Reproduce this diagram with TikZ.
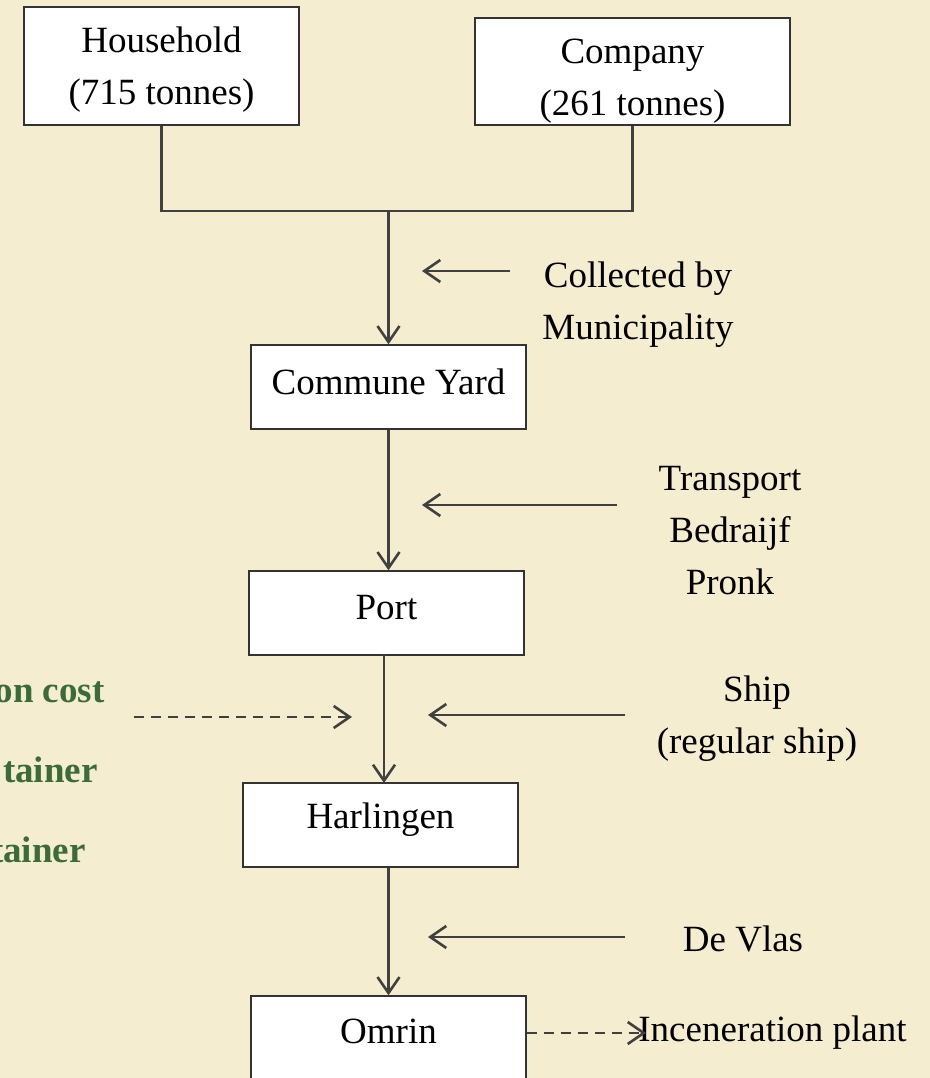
\documentclass[tikz,border=0pt]{standalone}
\usepackage{fontspec}
\setmainfont{Liberation Serif}
\usetikzlibrary{arrows.meta,calc}

\definecolor{bgcream}{HTML}{F5EDCF}
\definecolor{linegray}{HTML}{404040}
\definecolor{costgreen}{HTML}{3B6B38}

\begin{document}
\begin{tikzpicture}[x=0.5pt,y=-0.5pt,
    txt/.style={font=\fontsize{18.5}{26}\selectfont, align=center, inner sep=0pt},
    stage/.style={draw=black!80, line width=0.7pt, fill=white, minimum width=137.5pt, minimum height=42pt, txt},
    flow/.style={draw=linegray, line width=1.3pt, -{Straight Barb[length=8pt,width=11pt]}},
    flowline/.style={draw=linegray, line width=1.3pt},
    costflow/.style={flow, dash pattern=on 5pt off 3.5pt},
    cost/.style={txt, font=\fontsize{18.5}{26}\selectfont\bfseries, text=costgreen, anchor=east}]
    \fill[bgcream] (0,0) rectangle (930,1078);
    \useasboundingbox (0,0) rectangle (930,1078);

    % Sources
    \node[stage, minimum width=137.5pt, minimum height=59pt] (hh) at (161.5,66) {};
    \node[txt] (hhtxt) at (161.5,70) {Household\\(715 tonnes)};
    \node[stage, minimum width=157.5pt, minimum height=53.5pt] (comp) at (632.5,71.5) {};
    \node[txt] (comptxt) at (632.5,81) {Company\\(261 tonnes)};

    % Chain of stages
    \node[stage] (cy) at (388.5,387) {};
    \node[txt] (cytxt) at (388.5,382) {Commune Yard};
    \node[stage] (port) at (386.5,613) {};
    \node[txt] (porttxt) at (386.5,608) {Port};
    \node[stage] (harl) at (380.5,825) {};
    \node[txt] (harltxt) at (380.5,820) {Harlingen};
    \node[stage] (omrin) at (388.5,1038) {};
    \node[txt] (omrintxt) at (388.5,1031) {Omrin};

    % Merge of the two sources
    \coordinate (join) at (388.5,211);
    \draw[flowline] (hh.south) |- (join);
    \draw[flowline] (comp.south) |- (join);
    \draw[flow] (join) -- (cy.north);

    \draw[flow] (cy.south) -- (cy.south |- port.north);
    \draw[flow] (384,655) -- (384,783);
    \draw[flow] (omrin.north |- harl.south) -- (omrin.north);

    % Carriers
    \node[txt] (coll) at (638,305) {Collected by\\Municipality};
    \coordinate (collS) at (510,271);
    \coordinate (collE) at (422,271);
    \draw[flow] (collS) -- (collE);

    \node[txt] (trans) at (730,531) {Transport\\Bedraijf\\Pronk};
    \coordinate (transS) at (617,505);
    \coordinate (transE) at (422,505);
    \draw[flow] (transS) -- (transE);

    \node[txt] (ship) at (757,719) {Ship\\(regular ship)};
    \coordinate (shipS) at (625,715);
    \coordinate (shipE) at (428,715);
    \draw[flow] (shipS) -- (shipE);

    \node[txt] (vlas) at (743,939) {De Vlas};
    \coordinate (vlasS) at (625,937);
    \coordinate (vlasE) at (428,937);
    \draw[flow] (vlasS) -- (vlasE);

    % Costs on the left
    \node[cost] (costa) at (105,692) {on cost};
    \node[cost] (costb) at (98,770) {tainer};
    \node[cost] (costc) at (86,850) {tainer};
    \coordinate (costS) at (134,717);
    \coordinate (costE) at (352,717);
    \draw[costflow] (costS) -- (costE);

    % Final destination
    \node[txt, anchor=west] (plant) at (638,1033) {Inceneration plant};
    \draw[costflow] (omrin.east |- plant.west) -- ($(plant.west)+(8,0)$);
\end{tikzpicture}
\end{document}
